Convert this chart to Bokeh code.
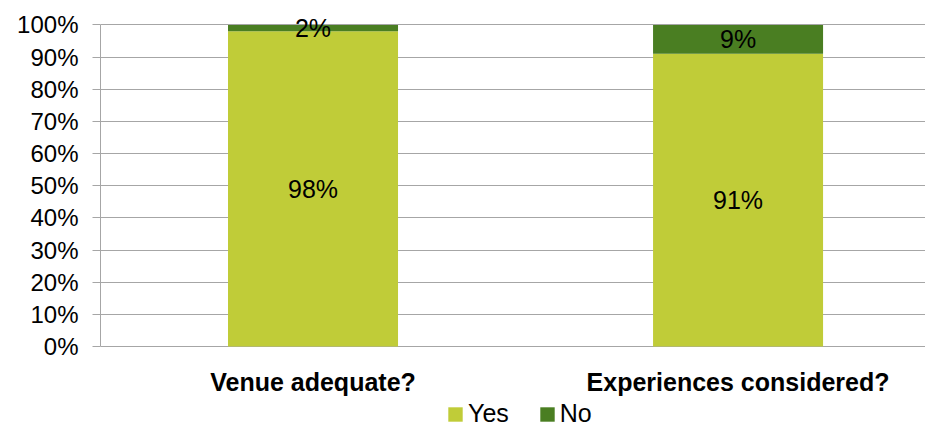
from bokeh.plotting import figure
from bokeh.models import (ColumnDataSource, Range1d, FixedTicker, NumeralTickFormatter,
                          Legend, LegendItem, LabelSet)
from bokeh.core.properties import value
from bokeh.embed import file_html
from bokeh.resources import INLINE

# ---- data ----
categories = ["Venue adequate?", "Experiences considered?"]
yes_values = [0.98, 0.91]
no_values = [0.02, 0.09]
yes_labels = ["98%", "91%"]
no_labels = ["2%", "9%"]
series_names = ["Yes", "No"]
y_ticks = [0.0, 0.1, 0.2, 0.3, 0.4, 0.5, 0.6, 0.7, 0.8, 0.9, 1.0]

YES_COLOR = "#c0cc38"
NO_COLOR = "#4a7e22"
GRID = "#a6a6a6"
FONT = "Liberation Sans"

x_pos = [i + 0.5 for i in range(len(categories))]
src = ColumnDataSource(dict(
    x=x_pos,
    base=[0.0 for _ in categories],
    cat=categories,
    Yes=yes_values,
    No=no_values,
    yes_mid=[v / 2 for v in yes_values],
    no_mid=[y + n / 2 for y, n in zip(yes_values, no_values)],
    yes_lab=yes_labels,
    no_lab=no_labels,
))

# frame covers the whole height below the top border; 0..1 spans the chart area,
# the negative part hosts category labels and legend
p = figure(width=925, height=428, output_backend="svg", toolbar_location=None,
           x_range=Range1d(0, 1.941), y_range=Range1d(-0.255, 1.051),
           min_border_left=100, min_border_right=0, min_border_top=8,
           min_border_bottom=0)
p.outline_line_color = None
p.background_fill_color = "white"
p.border_fill_color = "white"

rs = p.vbar_stack(series_names, x="x", width=0.4, source=src,
                  color=[YES_COLOR, NO_COLOR], line_color=None)

# value labels
for ycol, tcol in (("yes_mid", "yes_lab"), ("no_mid", "no_lab")):
    p.add_layout(LabelSet(x="x", y=ycol, text=tcol, source=src,
                          text_align="center", text_baseline="middle",
                          text_font=value(FONT), text_font_size="25px",
                          text_color="black"))

# category labels (below the baseline)
p.add_layout(LabelSet(x="x", y="base", text="cat", source=src, y_offset=-36,
                      text_align="center", text_baseline="middle",
                      text_font=value(FONT), text_font_size="25px",
                      text_font_style="bold", text_color="black"))

# y axis
p.yaxis.ticker = FixedTicker(ticks=y_ticks)
p.yaxis.bounds = (0, 1)
p.yaxis.formatter = NumeralTickFormatter(format="0%")
p.yaxis.axis_line_color = GRID
p.yaxis.major_tick_line_color = GRID
p.yaxis.major_tick_out = 8
p.yaxis.major_tick_in = 0
p.yaxis.minor_tick_line_color = None
p.yaxis.major_label_standoff = 14
p.yaxis.major_label_text_font = FONT
p.yaxis.major_label_text_font_size = "24px"
p.yaxis.major_label_text_color = "black"

p.xaxis.visible = False
p.xgrid.grid_line_color = None
p.ygrid.ticker = FixedTicker(ticks=y_ticks)
p.ygrid.grid_line_color = GRID

legend = Legend(items=[LegendItem(label=n, renderers=[r]) for n, r in zip(series_names, rs)],
                orientation="horizontal", location=(346, 0),
                glyph_width=18, glyph_height=18, label_standoff=4, spacing=29,
                padding=0, margin=0, border_line_color=None, background_fill_alpha=0,
                label_text_font=FONT, label_text_font_size="25px", label_text_color="black")
p.add_layout(legend)

open("out.html", "w").write(file_html(p, INLINE))
